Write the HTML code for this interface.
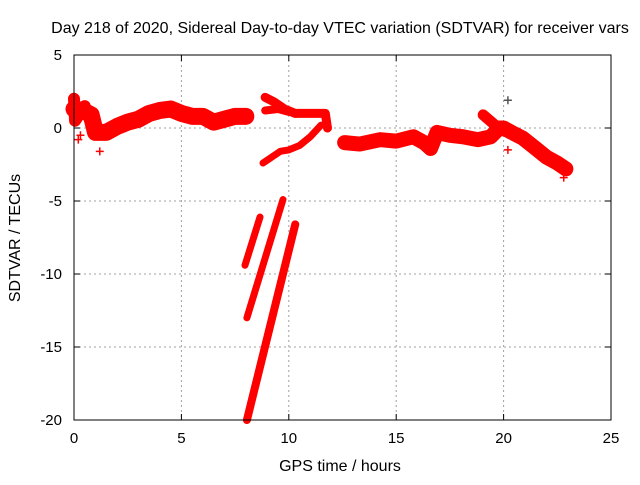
<!DOCTYPE html>
<html><head><meta charset="utf-8"><style>
body{margin:0;background:#fff}
svg text{font-family:"Liberation Sans",sans-serif;fill:#000}
</style></head><body>
<svg id="c" width="640" height="480">
<text x="340" y="33" text-anchor="middle" font-size="16">Day 218 of 2020, Sidereal Day-to-day VTEC variation (SDTVAR) for receiver vars</text>
<text x="340" y="471" text-anchor="middle" font-size="16">GPS time / hours</text>
<text transform="translate(20,238) rotate(-90)" text-anchor="middle" font-size="16">SDTVAR / TECUs</text>
<g id="grid"></g><g id="marks"></g>
<rect x="74" y="55" width="537" height="365" fill="none" stroke="#000"/>
</svg>
<script>
const xTicks=[0,5,10,15,20,25];
const yTicks=[5,0,-5,-10,-15,-20];
const mainX=[0,0.4,0.8,1.0,1.5,2.0,2.5,3.0,3.5,4.0,4.5,5.0,5.5,6.0,6.5,7.0,7.5,8.0];
const mainY=[1.3,1.2,0.9,-0.3,-0.3,0.1,0.4,0.6,1.0,1.2,1.3,1.0,0.8,0.8,0.4,0.6,0.8,0.8];
const headX=[0,0.05,0.5];const headY=[2.0,0.5,1.5];
const arcX=[8.9,9.3,9.8,10.3,11.0,11.7,11.8];
const arcY=[2.1,1.8,1.3,1.0,1.0,1.0,0.0];
const arc2X=[8.9,9.5,10.0];
const arc2Y=[1.2,1.3,1.1];
const lowX=[8.8,9.3,9.6,10.0,10.5,11.0,11.5];
const lowY=[-2.4,-1.9,-1.6,-1.5,-1.2,-0.6,0.2];
const s1X=[7.96,8.66];const s1Y=[-9.4,-6.1];
const s2X=[8.05,9.73];const s2Y=[-13,-4.9];
const s3X=[8.05,10.3];const s3Y=[-20,-6.6];
const rX=[12.6,13.3,14.25,15.0,15.8,16.3,16.6,16.9,17.5,18.1,18.8,19.4,19.8,20.0,20.5,20.9,21.5,22.0,22.5,22.9];
const rY=[-1.0,-1.1,-0.8,-0.9,-0.6,-1.0,-1.4,-0.3,-0.5,-0.6,-0.8,-0.6,0.0,0.0,-0.4,-0.7,-1.4,-2.0,-2.4,-2.8];
const spikeX=[19.05,19.6,20.0];const spikeY=[0.9,0.2,-0.2];
const outX=[0.3,1.2,0.2,20.2,20.2,22.8];
const outY=[-0.5,-1.6,-0.8,1.9,-1.5,-3.4];
const X=h=>74+h*21.48, Y=v=>128-v*14.6;
const NS="http://www.w3.org/2000/svg";
const grid=document.getElementById('grid'), marks=document.getElementById('marks');
function mk(tag,at,par){const e=document.createElementNS(NS,tag);for(const k in at)e.setAttribute(k,at[k]);par.appendChild(e);return e;}
xTicks.forEach(t=>{
  if(t>0&&t<25){const g=mk('line',{x1:X(t),x2:X(t),y1:55,y2:420,stroke:'#a0a0a0','stroke-dasharray':'2,3'},grid);
  
  }
  mk('line',{x1:X(t),x2:X(t),y1:420,y2:414,stroke:'#000'},grid);
  mk('line',{x1:X(t),x2:X(t),y1:55,y2:61,stroke:'#000'},grid);
  const l=mk('text',{x:X(t),y:443,'text-anchor':'middle','font-size':15},grid);l.textContent=t;
  
  
});
yTicks.forEach(t=>{
  if(t<5&&t>-20){const g=mk('line',{x1:74,x2:611,y1:Y(t),y2:Y(t),stroke:'#a0a0a0','stroke-dasharray':'2,3'},grid);
  
  }
  mk('line',{x1:74,x2:80,y1:Y(t),y2:Y(t),stroke:'#000'},grid);
  mk('line',{x1:605,x2:611,y1:Y(t),y2:Y(t),stroke:'#000'},grid);
  const l=mk('text',{x:62,y:Y(t)+5,'text-anchor':'end','font-size':15},grid);l.textContent=t;
  
  
});
function band(xs,ys,w,name){
  const p=mk('polyline',{points:xs.map((x,i)=>X(x)+','+Y(ys[i])).join(' '),fill:'none',stroke:'#f00','stroke-width':w,'stroke-linejoin':'round','stroke-linecap':'round'},marks);
  
  
}
band(mainX,mainY,17,'series-0-8h');
band(headX,headY,12,'series-0h-cluster');
band(arcX,arcY,9,'series-upper-arc');
band(arc2X,arc2Y,8,'series-upper-branch');
band(lowX,lowY,7,'series-lower-arc');
band(s1X,s1Y,7,'series-steep-1');
band(s2X,s2Y,7,'series-steep-2');
band(s3X,s3Y,8,'series-steep-3');
band(rX,rY,15,'series-12-23h');
band(spikeX,spikeY,11,'series-spike-20h');
outX.forEach((x,i)=>{
  const p=mk('path',{d:`M${X(x)-4},${Y(outY[i])}h8M${X(x)},${Y(outY[i])-4}v8`,stroke:i==3?'#555':'#f00','stroke-width':1.5},marks);
  
  
});
</script>
</body></html>
